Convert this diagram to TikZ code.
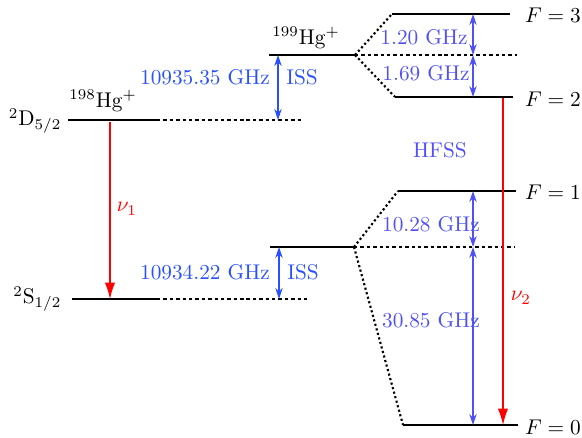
\documentclass[tikz,border=0pt]{standalone}
\usepackage{xcolor}
\usetikzlibrary{arrows.meta}
\definecolor{issblue}{RGB}{40,80,255}
\definecolor{hfsblue}{RGB}{80,80,245}

\begin{document}
\begin{tikzpicture}[
      x = 0.0165cm, y = -0.0165cm,
      level/.style={
        draw = black,
        line width = 1pt,
      },
      virtual/.style={
        draw = black,
        line width = 1pt,
        dash pattern = on 1.6pt off 1.4pt,
      },
      split/.style={
        draw = black,
        line width = 1pt,
        dash pattern = on 1pt off 1.2pt,
      },
      gap/.style={
        {Stealth[length=1.8mm, width=1.2mm]}-{Stealth[length=1.8mm, width=1.2mm]},
        semithick,
      },
      transition/.style={
        -{Latex[length=2.7mm, width=1.7mm]},
        semithick,
        red,
      },
      lbl/.style={
        inner sep = 1pt,
      },
    ]
    \useasboundingbox (0,0) rectangle (582,438);

    % 198Hg+ levels
    \coordinate (d8a) at (68,120);
    \coordinate (d8b) at (157,120);
    \coordinate (d8c) at (302,120);
    \coordinate (s8a) at (72,299);
    \coordinate (s8b) at (157,299);
    \coordinate (s8c) at (307,299);
    \draw[level] (d8a) -- (d8b);
    \draw[virtual] (d8b) -- (d8c);
    \draw[level] (s8a) -- (s8b);
    \draw[virtual] (s8b) -- (s8c);
    \node[lbl, anchor = east] (d-term) at (64,121) {$^2\mathrm{D}_{5/2}$};
    \node[lbl, anchor = east] (s-term) at (64,299) {$^2\mathrm{S}_{1/2}$};
    \node[lbl] (hg198) at (103,101) {$^{198}$Hg$^+$};

    % 199Hg+ centroid levels
    \coordinate (d9a) at (269,55);
    \coordinate (d9b) at (355,55);
    \coordinate (d9c) at (517,55);
    \coordinate (s9a) at (270,247);
    \coordinate (s9b) at (354,247);
    \coordinate (s9c) at (515,247);
    \draw[level] (d9a) -- (d9b);
    \draw[virtual] (d9b) -- (d9c);
    \draw[level] (s9a) -- (s9b);
    \draw[virtual] (s9b) -- (s9c);
    \node[lbl] (hg199) at (306,38) {$^{199}$Hg$^+$};

    % hyperfine levels
    \coordinate (f3a) at (392,14);
    \coordinate (f3b) at (510,14);
    \coordinate (f2a) at (395,97);
    \coordinate (f2b) at (513,97);
    \coordinate (f1a) at (398,191);
    \coordinate (f1b) at (516,191);
    \coordinate (f0a) at (403,425);
    \coordinate (f0b) at (518,425);
    \draw[level] (f3a) -- (f3b);
    \draw[level] (f2a) -- (f2b);
    \draw[level] (f1a) -- (f1b);
    \draw[level] (f0a) -- (f0b);
    \draw[split] (d9b) -- (f3a);
    \draw[split] (d9b) -- (f2a);
    \draw[split] (s9b) -- (f1a);
    \draw[split] (s9b) -- (f0a);
    \node[lbl] (f3) at (553,15) {$F=3$};
    \node[lbl] (f2) at (553,99) {$F=2$};
    \node[lbl] (f1) at (553,192) {$F=1$};
    \node[lbl] (f0) at (553,427) {$F=0$};

    % isotope shifts
    \coordinate (iss-d-top) at (278,55);
    \coordinate (iss-d-bot) at (278,120);
    \coordinate (iss-s-top) at (279,247);
    \coordinate (iss-s-bot) at (279,299);
    \draw[gap, issblue] (iss-d-top) -- (iss-d-bot);
    \draw[gap, issblue] (iss-s-top) -- (iss-s-bot);
    \node[lbl, issblue] (iss-d-val) at (205,77) {10935.35 GHz};
    \node[lbl, issblue] (iss-d) at (302,77) {ISS};
    \node[lbl, issblue] (iss-s-val) at (205,272) {10934.22 GHz};
    \node[lbl, issblue] (iss-s) at (303,272) {ISS};

    % hyperfine splittings
    \coordinate (h3) at (473,14);
    \coordinate (hd) at (473,55);
    \coordinate (h2) at (473,97);
    \coordinate (h1) at (473,191);
    \coordinate (hs) at (473,247);
    \coordinate (h0) at (473,425);
    \draw[gap, hfsblue] (h3) -- (hd);
    \draw[gap, hfsblue] (hd) -- (h2);
    \draw[gap, hfsblue] (h1) -- (hs);
    \draw[gap, hfsblue] (hs) -- (h0);
    \node[lbl, hfsblue] (w32) at (424,37) {1.20 GHz};
    \node[lbl, hfsblue] (w2d) at (426,73) {1.69 GHz};
    \node[lbl, hfsblue] (w1s) at (431,224) {10.28 GHz};
    \node[lbl, hfsblue] (w0s) at (431,320) {30.85 GHz};
    \node[lbl, hfsblue] (hfss) at (440,150) {HFSS};

    % optical transitions
    \coordinate (nu1-top) at (110,122);
    \coordinate (nu1-bot) at (110,299);
    \coordinate (nu2-top) at (503,98);
    \coordinate (nu2-bot) at (503,425);
    \draw[transition] (nu1-top) -- (nu1-bot);
    \draw[transition] (nu2-top) -- (nu2-bot);
    \node[lbl, red] (nu1) at (127,209) {$\nu_1$};
    \node[lbl, red] (nu2) at (521,298) {$\nu_2$};
  \end{tikzpicture}
\end{document}
